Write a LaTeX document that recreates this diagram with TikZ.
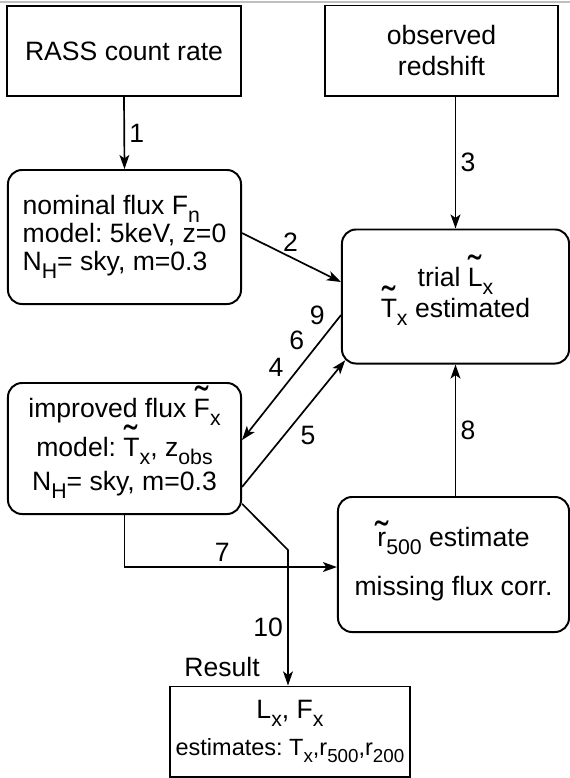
\documentclass[tikz,border=0pt]{standalone}
\usepackage{fontspec}
\setmainfont{Liberation Sans}
\usetikzlibrary{arrows.meta}
\frenchspacing
\newcommand\boxfont{\fontsize{18.9}{20}\selectfont\lineskiplimit=-20pt\relax}
\newcommand\sub[1]{\raisebox{-.3em}{\scalebox{.8}{#1}}}
\newcommand\tld[2][.12em]{\mbox{\ooalign{#2\cr\hidewidth\raisebox{#1}{\scalebox{1.5}{\char"02DC}}\hidewidth\cr}}}
\tikzset{
  box/.style={draw,line width=1.4pt,minimum width=5.85cm,minimum height=2.25cm,align=center,inner sep=4pt},
  roundbox/.style={box,rounded corners=10pt,minimum width=5.825cm,minimum height=3.35cm},
  flow/.style={line width=1.2pt,-{Stealth[length=10pt,width=7pt,inset=2.5pt]}},
  lbl/.style={inner sep=3pt}
}

\begin{document}
\begin{tikzpicture}[x=0.025cm,y=-0.025cm,font=\boxfont]
\useasboundingbox (0,0) rectangle (570,778);
\draw[gray!50,line width=0.8pt] (0,2) -- (570,2);

\node[box] (rass) at (124,51) {RASS count rate};
\node[box,minimum width=5.825cm] (redshift) at (441.5,50.5) {observed\\[2pt]redshift};
\node[roundbox,align=left] (nominal) at (124.5,237) {nominal flux F\sub{n}\\model: 5keV, z=0\\N\sub{H}= sky, m=0.3};
\node[roundbox,minimum width=5.675cm] (trial) at (455.5,296.5) {trial \tld{L}\sub{x}\\[2pt]\tld{T}\sub{x} estimated};
\node[roundbox,minimum height=3.275cm] (improved) at (124.5,448.5) {improved flux \tld{F}\sub{x}\\[8pt]model: \tld{T}\sub{x}, z\sub{obs}\\[4pt]N\sub{H}= sky, m=0.3};
\node[roundbox,minimum width=5.775cm,minimum height=3.375cm] (estimate) at (453.5,564.5) {\tld[-.12em]{r}\sub{500} estimate\\[15pt]missing flux corr.};
\node[box] (result) at (290,731.5) {L\sub{x}, F\sub{x}\\[6pt]\fontsize{16.7}{18}\selectfont estimates: T\sub{x},r\sub{500},r\sub{200}};
\node (reslbl) at (222,667) {Result};

\draw[flow] (rass.south) -- node[lbl,right] (n1) {1} (nominal.north);
\draw[flow] (redshift.south -| trial.north) -- node[lbl,right] (n3) {3} (trial.north);
\draw[flow] ([yshift=2.8pt]nominal.east) -- node[lbl,above,pos=.49] (n2) {2} ([yshift=10.3pt]trial.west);
\draw[flow] ([yshift=-13.2pt]trial.west) -- node[lbl,above left,pos=.115] (n9) {9}
  node[lbl,above left,pos=.32] (n6) {6} node[lbl,above left,pos=.53] (n4) {4} ([yshift=6pt]improved.east);
\draw[flow] ([yshift=-27.4pt]improved.east) -- node[lbl,below right,pos=.52] (n5) {5} ([xshift=3pt,yshift=3pt]trial.south west);
\draw[flow] (estimate.north -| trial.south) -- node[lbl,right] (n8) {8} (trial.south);
\draw[flow] (improved.south) |- node[lbl,above,pos=.73] (n7) {7} ([yshift=-1.8pt]estimate.west);
\coordinate (kink) at (288,550);
\draw[flow] ([yshift=8pt]improved.south east) -- (kink) -- node[lbl,left,pos=.57] (n10) {10} (kink |- result.north);
\end{tikzpicture}
\end{document}
